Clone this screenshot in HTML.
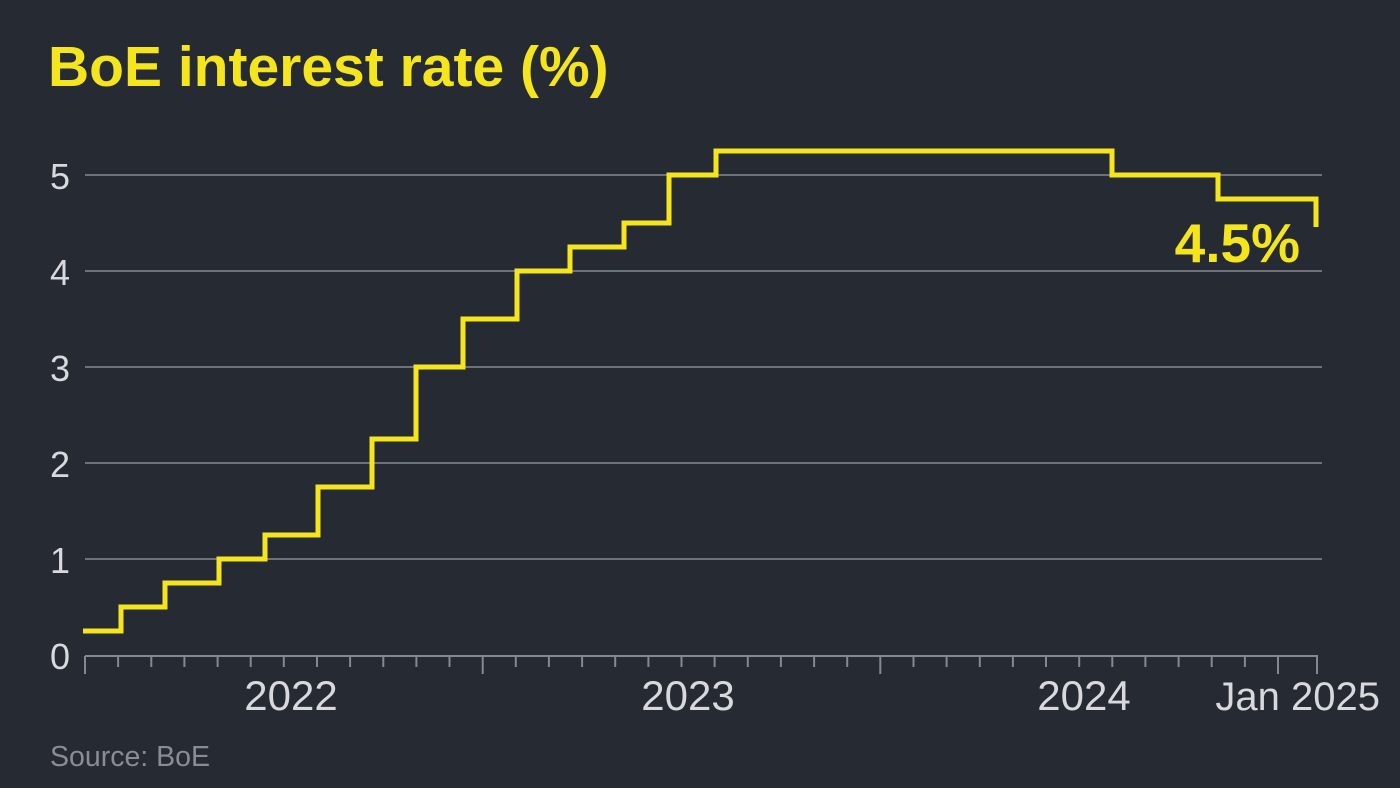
<!DOCTYPE html>
<html><head><meta charset="utf-8"><style>
body{margin:0;background:#262a33;}
svg{display:block;}
</style></head><body>
<svg width="1400" height="788" viewBox="0 0 1400 788" xmlns="http://www.w3.org/2000/svg">
<rect width="1400" height="788" fill="#262a33"/>
<text x="48" y="86" font-family="Liberation Sans, sans-serif" font-weight="bold" font-size="57" fill="#f5e51c">BoE interest rate (%)</text>
<g stroke="#858891" stroke-width="1.5">
<line x1="85" y1="175" x2="1322" y2="175"/>
<line x1="85" y1="271" x2="1322" y2="271"/>
<line x1="85" y1="367" x2="1322" y2="367"/>
<line x1="85" y1="463" x2="1322" y2="463"/>
<line x1="85" y1="559" x2="1322" y2="559"/>
<line x1="85" y1="656" x2="1318" y2="656" stroke-width="2"/>
</g>
<g stroke="#858891" stroke-width="2" id="ticks"></g>
<g font-family="Liberation Sans, sans-serif" font-size="36" fill="#d8d9dc">
<text x="50" y="189">5</text>
<text x="50" y="285">4</text>
<text x="50" y="381">3</text>
<text x="50" y="477">2</text>
<text x="50" y="573">1</text>
<text x="50" y="669">0</text>
<text x="291" y="710" text-anchor="middle" font-size="42">2022</text>
<text x="688" y="710" text-anchor="middle" font-size="42">2023</text>
<text x="1084" y="710" text-anchor="middle" font-size="42">2024</text>
<text x="1380" y="710" text-anchor="end" font-size="40">Jan 2025</text>
</g>
<text x="50" y="766" font-family="Liberation Sans, sans-serif" font-size="28.5" fill="#8a8c92">Source: BoE</text>
<polyline fill="none" stroke="#f5e51c" stroke-width="5" stroke-linejoin="miter"
points="83,631 121,631 121,607 165,607 165,583 219,583 219,559 265,559 265,535 318,535 318,487 372,487 372,439 416,439 416,367 463,367 463,319 517,319 517,271 570,271 570,247 624,247 624,223 669,223 669,175 716,175 716,151 1112,151 1112,175 1218,175 1218,199 1316,199 1316,227"/>
<text x="1300" y="262" text-anchor="end" font-family="Liberation Sans, sans-serif" font-weight="bold" font-size="55" fill="#f5e51c">4.5%</text>
</svg>
<script>
var g=document.getElementById('ticks'),s='';
for(var i=0;i<=36;i++){var x=85+i*(1278-85)/36;var maj=(i%12==0);s+='<line x1="'+x.toFixed(1)+'" y1="656" x2="'+x.toFixed(1)+'" y2="'+(maj?674:667)+'"/>';}
s+='<line x1="1317" y1="656" x2="1317" y2="674"/>';
g.innerHTML=s;
</script>
</body></html>
